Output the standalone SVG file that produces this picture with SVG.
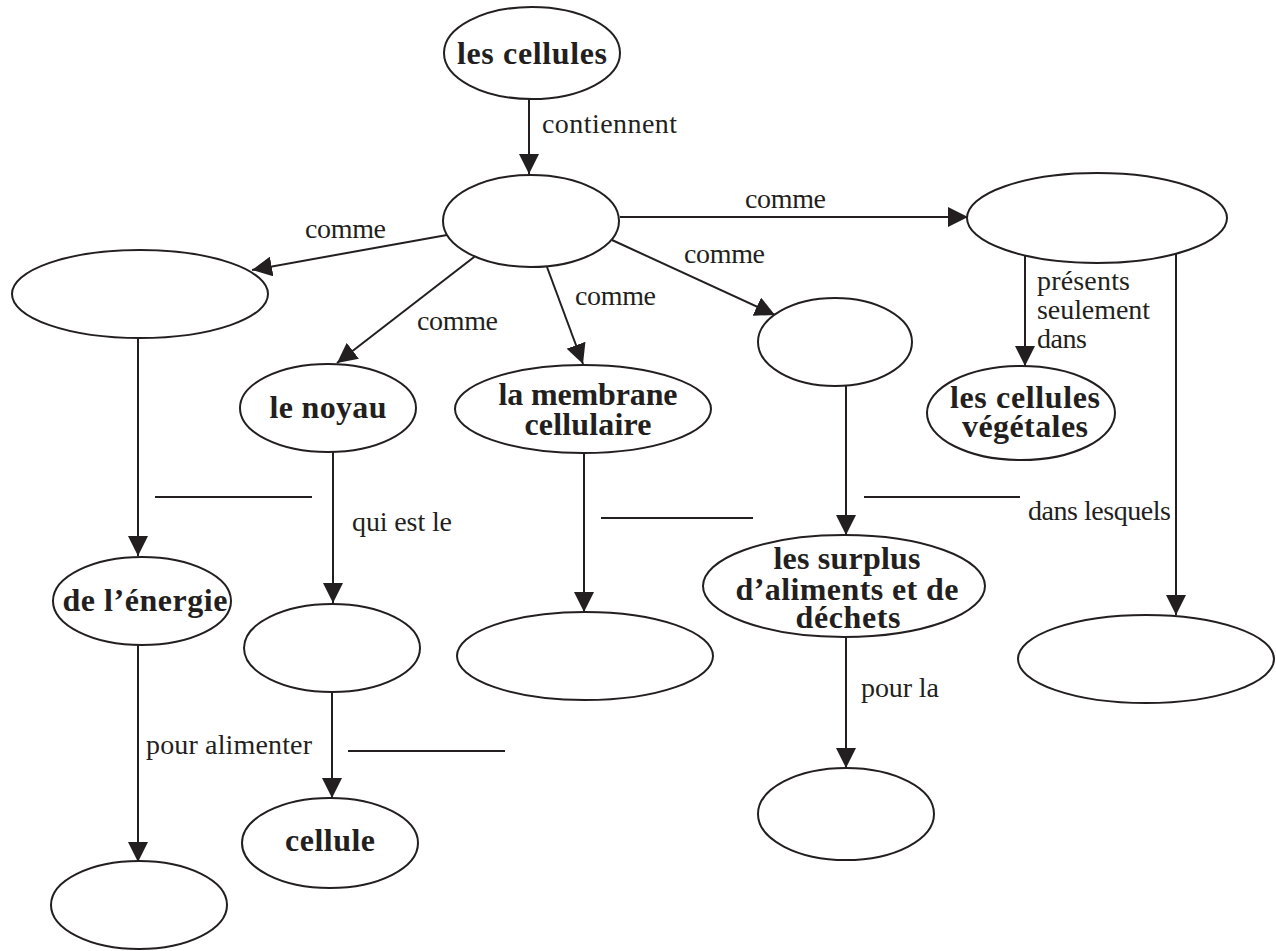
<svg xmlns="http://www.w3.org/2000/svg" width="1276" height="951" viewBox="0 0 1276 951">
<style>
.n{fill:#fff;stroke:#231f20;stroke-width:2}
.c{stroke:#231f20;stroke-width:2;fill:none}
.b{font-family:"Liberation Serif","Times New Roman",serif;font-weight:bold;font-size:32px;fill:#231f20;text-anchor:middle}
.l{font-family:"Liberation Serif","Times New Roman",serif;font-size:28px;fill:#231f20}
</style>
<defs>
<marker id="a" markerUnits="userSpaceOnUse" markerWidth="20" markerHeight="20" refX="20" refY="10" orient="auto">
<path d="M0,0 L20,10 L0,20 z" fill="#231f20"/>
</marker>
</defs>
<rect width="1276" height="951" fill="#fff"/>
<g id="connectors">
<line class="c" x1="529" y1="99" x2="529" y2="174" marker-end="url(#a)"/>
<line class="c" x1="620" y1="217" x2="968" y2="217" marker-end="url(#a)"/>
<line class="c" x1="447" y1="235" x2="252" y2="270" marker-end="url(#a)"/>
<line class="c" x1="478" y1="254" x2="337" y2="363" marker-end="url(#a)"/>
<line class="c" x1="547" y1="267" x2="583" y2="364" marker-end="url(#a)"/>
<line class="c" x1="612" y1="240" x2="775" y2="315" marker-end="url(#a)"/>
<line class="c" x1="1025" y1="256" x2="1025" y2="366" marker-end="url(#a)"/>
<line class="c" x1="1176" y1="253" x2="1176" y2="615" marker-end="url(#a)"/>
<line class="c" x1="138" y1="338" x2="138" y2="556" marker-end="url(#a)"/>
<line class="c" x1="333" y1="452" x2="333" y2="603" marker-end="url(#a)"/>
<line class="c" x1="584" y1="453" x2="584" y2="612" marker-end="url(#a)"/>
<line class="c" x1="846" y1="386" x2="846" y2="535" marker-end="url(#a)"/>
<line class="c" x1="332" y1="692" x2="332" y2="798" marker-end="url(#a)"/>
<line class="c" x1="138" y1="645" x2="138" y2="862" marker-end="url(#a)"/>
<line class="c" x1="846" y1="638" x2="846" y2="768" marker-end="url(#a)"/>
<line class="c" x1="155" y1="497" x2="312" y2="497"/>
<line class="c" x1="348" y1="751" x2="505" y2="751"/>
<line class="c" x1="601" y1="518" x2="753" y2="518"/>
<line class="c" x1="864" y1="497" x2="1020" y2="497"/>
<text class="l" x="542" y="133" textLength="135">contiennent</text>
<text class="l" x="745" y="208" textLength="81">comme</text>
<text class="l" x="305" y="238" textLength="81">comme</text>
<text class="l" x="417" y="330" textLength="81">comme</text>
<text class="l" x="575" y="305" textLength="81">comme</text>
<text class="l" x="684" y="263" textLength="81">comme</text>
<text class="l" x="1037" y="290" textLength="93">présents</text>
<text class="l" x="1037" y="319" textLength="113">seulement</text>
<text class="l" x="1037" y="348" textLength="50">dans</text>
<text class="l" x="352" y="531" textLength="100">qui est le</text>
<text class="l" x="146" y="754" textLength="166">pour alimenter</text>
<text class="l" x="1028" y="520" textLength="143">dans lesquels</text>
<text class="l" x="861" y="697" textLength="78">pour la</text>
</g>
<g id="n1"><ellipse class="n" cx="532" cy="53" rx="88" ry="46"/><text class="b" x="532" y="64" textLength="150">les cellules</text></g>
<g id="n2"><ellipse class="n" cx="531" cy="221" rx="88" ry="46"/></g>
<g id="n3"><ellipse class="n" cx="1097" cy="218" rx="130" ry="45"/></g>
<g id="n4"><ellipse class="n" cx="140" cy="294" rx="128" ry="44"/></g>
<g id="n5"><ellipse class="n" cx="328" cy="408" rx="88" ry="44"/><text class="b" x="328" y="418" textLength="117">le noyau</text></g>
<g id="n6"><ellipse class="n" cx="583" cy="409" rx="128" ry="44"/><text class="b" x="588" y="405" textLength="179">la membrane</text><text class="b" x="588" y="435" textLength="127">cellulaire</text></g>
<g id="n7"><ellipse class="n" cx="835" cy="342" rx="77" ry="44"/></g>
<g id="n8"><ellipse class="n" cx="1021" cy="413" rx="94" ry="47"/><text class="b" x="1025" y="408" textLength="150">les cellules</text><text class="b" x="1025" y="437" textLength="126">végétales</text></g>
<g id="n9"><ellipse class="n" cx="142" cy="601" rx="89" ry="44"/><text class="b" x="145" y="611" textLength="165">de l’énergie</text></g>
<g id="n10"><ellipse class="n" cx="332" cy="648" rx="88" ry="44"/></g>
<g id="n11"><ellipse class="n" cx="585" cy="656" rx="128" ry="44"/></g>
<g id="n12"><ellipse class="n" cx="844" cy="586" rx="141" ry="51"/><text class="b" x="847" y="569" textLength="147">les surplus</text><text class="b" x="847" y="600" textLength="223">d’aliments et de</text><text class="b" x="848" y="628" textLength="105">déchets</text></g>
<g id="n13"><ellipse class="n" cx="1146" cy="659" rx="128" ry="44"/></g>
<g id="n14"><ellipse class="n" cx="330" cy="843" rx="88" ry="45"/><text class="b" x="330" y="851" textLength="90">cellule</text></g>
<g id="n15"><ellipse class="n" cx="139" cy="905" rx="88" ry="44"/></g>
<g id="n16"><ellipse class="n" cx="846" cy="814" rx="88" ry="46"/></g>
</svg>
